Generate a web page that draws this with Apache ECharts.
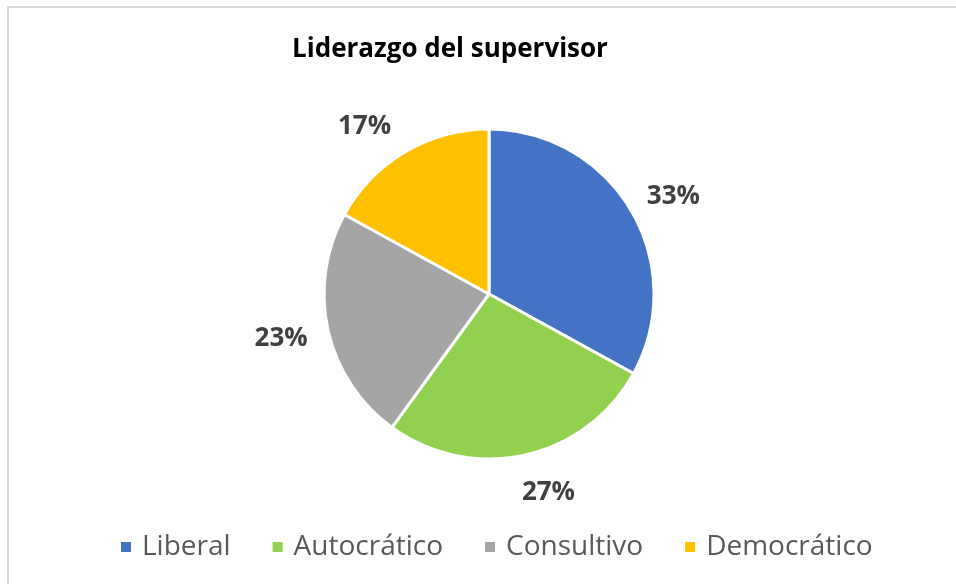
<!DOCTYPE html>
<html>
<head>
<meta charset="utf-8">
<script src="https://cdn.jsdelivr.net/npm/echarts@6/dist/echarts.min.js"></script>
<style>
  html, body { margin: 0; padding: 0; background: #fff; }
  #chart { width: 956px; height: 584px; }
</style>
</head>
<body>
<div id="chart"></div>
<script>
// Leadership style shares
const categories = ['Liberal', 'Autocrático', 'Consultivo', 'Democrático'];
const values = [33, 27, 23, 17];
const colors = ['#4472C4', '#92D050', '#A5A5A5', '#FFC000'];
const titleText = 'Liderazgo del supervisor';

// small nudges of each percentage label from its slice's mid-angle spot
const labelNudges = [[1, 11], [13, -9], [0, -2], [-16, 16]];

const sliceData = categories.map((name, i) => ({
  name: name,
  value: values[i],
  itemStyle: { color: colors[i] }
}));

const chart = echarts.init(document.getElementById('chart'));
chart.setOption({
  animation: false,
  backgroundColor: '#ffffff',
  title: {
    text: titleText,
    left: 445,
    textAlign: 'center',
    top: 32,
    textStyle: {
      fontFamily: 'Open Sans',
      fontWeight: 'bold',
      fontSize: 26,
      color: '#000000'
    }
  },
  legend: {
    data: categories,
    left: 114,
    top: 528,
    itemWidth: 12,
    itemHeight: 12,
    itemGap: 40,
    icon: 'rect',
    textStyle: {
      fontFamily: 'Open Sans',
      fontSize: 28,
      color: '#595959',
      padding: [0, 0, 0, 5]
    }
  },
  graphic: [{
    type: 'rect',
    shape: { x: 8, y: 7, width: 1000, height: 700 },
    style: { fill: 'none', stroke: '#d9d9d9', lineWidth: 2 },
    silent: true,
    z: -1
  }],
  series: [
    {
      type: 'pie',
      center: [489, 294],
      radius: [0, 165],
      startAngle: 90,
      clockwise: true,
      label: { show: false },
      labelLine: { show: false },
      itemStyle: { borderColor: '#ffffff', borderWidth: 3 },
      emphasis: { disabled: true },
      data: sliceData
    },
    {
      // percentage labels ring around the pie
      type: 'pie',
      center: [489, 294],
      radius: [205, 215],
      startAngle: 90,
      clockwise: true,
      silent: true,
      legendHoverLink: false,
      itemStyle: { color: 'rgba(0,0,0,0)' },
      emphasis: { disabled: true },
      labelLine: { show: false },
      label: {
        show: true,
        position: 'inside',
        formatter: '{c}%',
        fontFamily: 'Open Sans',
        fontWeight: 'bold',
        fontSize: 26,
        color: '#404040'
      },
      data: categories.map((name, i) => ({
        name: name,
        value: values[i],
        label: { offset: labelNudges[i] }
      }))
    }
  ]
});
</script>
</body>
</html>
